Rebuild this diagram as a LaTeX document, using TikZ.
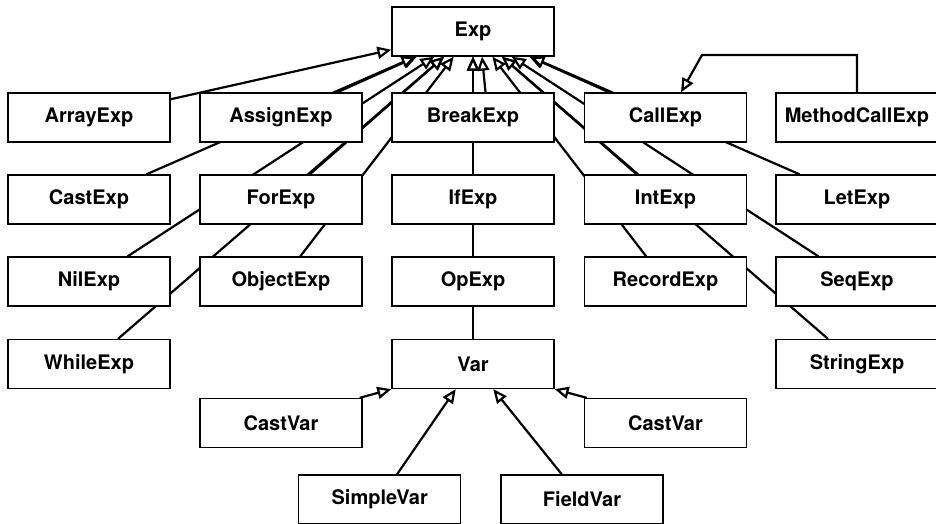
\documentclass[tikz,border=0pt]{standalone}
\usepackage{fontspec}
\setmainfont{TeX Gyre Heros}
\usetikzlibrary{arrows.meta,calc}
\pgfdeclarelayer{bg}
\pgfsetlayers{bg,main}
\begin{document}
\begin{tikzpicture}[x=1pt,y=-1pt,
  box/.style={draw, line width=1.3pt, fill=white, minimum width=162pt, minimum height=49pt,
              inner sep=0pt, font=\fontsize{20}{24}\selectfont\bfseries},
  inh/.style={line width=2.2pt, line join=miter, -{Triangle[fill=white, length=14pt, width=12pt]}}]
\useasboundingbox (0,0) rectangle (936,524);
% row 0
\node[box] (exp) at (473,31.5) {Exp};
% row 1
\node[box] (array)  at (89,117.5)    {ArrayExp};
\node[box] (assign) at (281,117.5)   {AssignExp};
\node[box] (break)  at (473,117.5)   {BreakExp};
\node[box] (call)   at (665.5,117.5) {CallExp};
\node[box] (mcall)  at (857,117.5)   {MethodCallExp};
% row 2
\node[box] (cast) at (89,199.5)    {CastExp};
\node[box] (for)  at (281,199.5)   {ForExp};
\node[box] (if)   at (473,199.5)   {IfExp};
\node[box] (int)  at (665.5,199.5) {IntExp};
\node[box] (let)  at (857,199.5)   {LetExp};
% row 3
\node[box] (nil)    at (89,281.5)    {NilExp};
\node[box] (object) at (281,281.5)   {ObjectExp};
\node[box] (op)     at (473,281.5)   {OpExp};
\node[box] (record) at (665.5,281.5) {RecordExp};
\node[box] (seq)    at (857,281.5)   {SeqExp};
% row 4
\node[box] (while)  at (89,364)  {WhileExp};
\node[box] (var)    at (473,364) {Var};
\node[box] (string) at (857,364) {StringExp};
% row 5
\node[box] (cvl) at (281,423)   {CastVar};
\node[box] (cvr) at (665.5,423) {CastVar};
% row 6
\node[box] (simple) at (379.7,499.5) {SimpleVar};
\node[box] (field)  at (582,499.5)   {FieldVar};
\coordinate (bend) at (702,55);
\begin{pgfonlayer}{bg}
  \foreach \n in {array,assign,cast,for,nil,object,while,if,op,var,call,int,let,record,seq,string}
    \draw[inh] (\n) -- (exp);
  \draw[inh] ([xshift=15pt]break.center) -- ([xshift=9pt]exp.south);
  \draw[inh] (mcall.north) |- (bend) -- ([xshift=15.5pt]call.north);
  \draw[inh] ([xshift=-3pt]cvl.north east) -- (var.south west);
  \draw[inh] ([xshift=3pt]cvr.north west) -- (var.south east);
  \draw[inh] (simple) -- (var);
  \draw[inh] (field) -- (var);
\end{pgfonlayer}
\end{tikzpicture}
\end{document}
